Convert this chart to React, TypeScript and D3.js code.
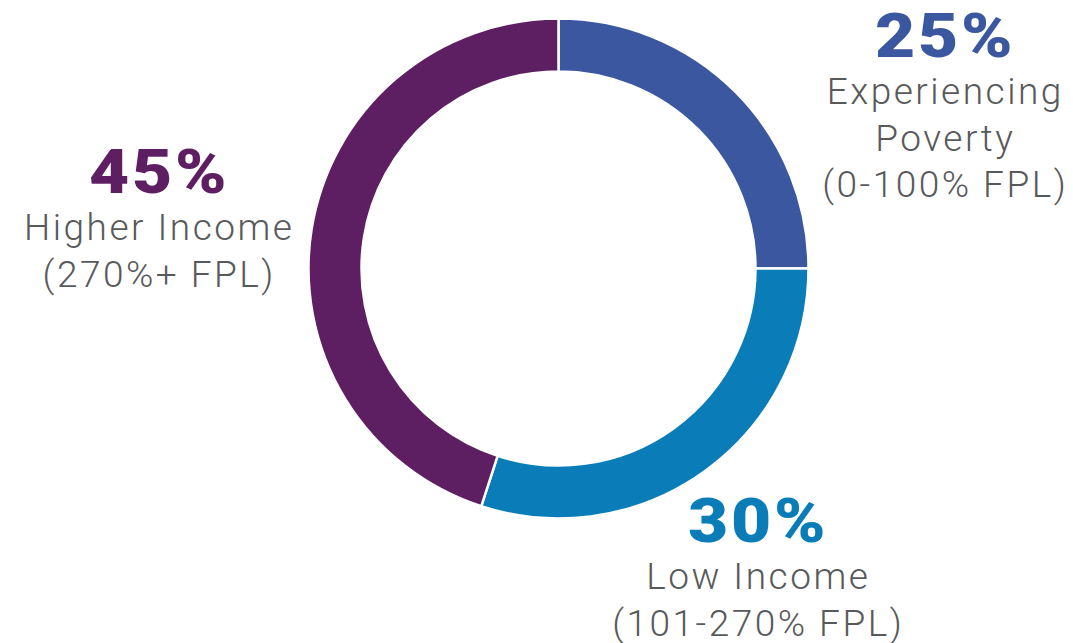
import React from "react";
import * as d3 from "d3";

const categories = ["Experiencing Poverty", "Low Income", "Higher Income"];
const shares = [25, 30, 45];
const pctLabels = ["25%", "30%", "45%"];
const labelLines = [
  ["Experiencing", "Poverty", "(0-100% FPL)"],
  ["Low Income", "(101-270% FPL)"],
  ["Higher Income", "(270%+ FPL)"],
];
const colors = ["#3a57a0", "#0a7db8", "#5e1f62"];

// where each label block sits (centre x, baseline of the big number)
const labelPos = [
  { x: 944, y: 57 },
  { x: 757, y: 542 },
  { x: 158, y: 193 },
];

const width = 1073;
const height = 643;
const cx = 558.5;
const cy = 268.5;
const outerR = 250;
const innerR = 197;

const bigSpacing = 2.5;
const subSpacing = 2.5;

export default function App() {
  const pie = d3
    .pie<number>()
    .sort(null)
    .value((d) => d);
  const arc = d3
    .arc<d3.PieArcDatum<number>>()
    .innerRadius(innerR)
    .outerRadius(outerR);
  const arcs = pie(shares);

  return (
    <svg
      width={width}
      height={height}
      style={{ position: "absolute", left: 0, top: 0, background: "#fff" }}
    >
      <g transform={`translate(${cx},${cy})`}>
        {arcs.map((a, i) => (
          <path
            key={categories[i]}
            d={arc(a) || ""}
            fill={colors[i]}
            stroke="#fff"
            strokeWidth={2.5}
          />
        ))}
      </g>
      {arcs.map((a, i) => {
        const p = labelPos[i];
        return (
          <g key={"lbl" + i} textAnchor="middle">
            <text
              transform={`translate(${p.x + bigSpacing / 2},${p.y}) scale(1.12,1)`}
              fill={colors[i]}
              fontFamily="Roboto, 'DejaVu Sans', sans-serif"
              fontWeight={900}
              fontSize={62}
              letterSpacing={bigSpacing}
            >
              {pctLabels[i]}
            </text>
            {labelLines[i].map((line, j) => (
              <text
                key={j}
                x={p.x + subSpacing / 2}
                y={p.y + 47 + j * 46.5}
                fill="#58595b"
                fontFamily="Roboto, 'Liberation Sans', sans-serif"
                fontWeight={300}
                fontSize={37}
                letterSpacing={subSpacing}
              >
                {line}
              </text>
            ))}
          </g>
        );
      })}
    </svg>
  );
}
